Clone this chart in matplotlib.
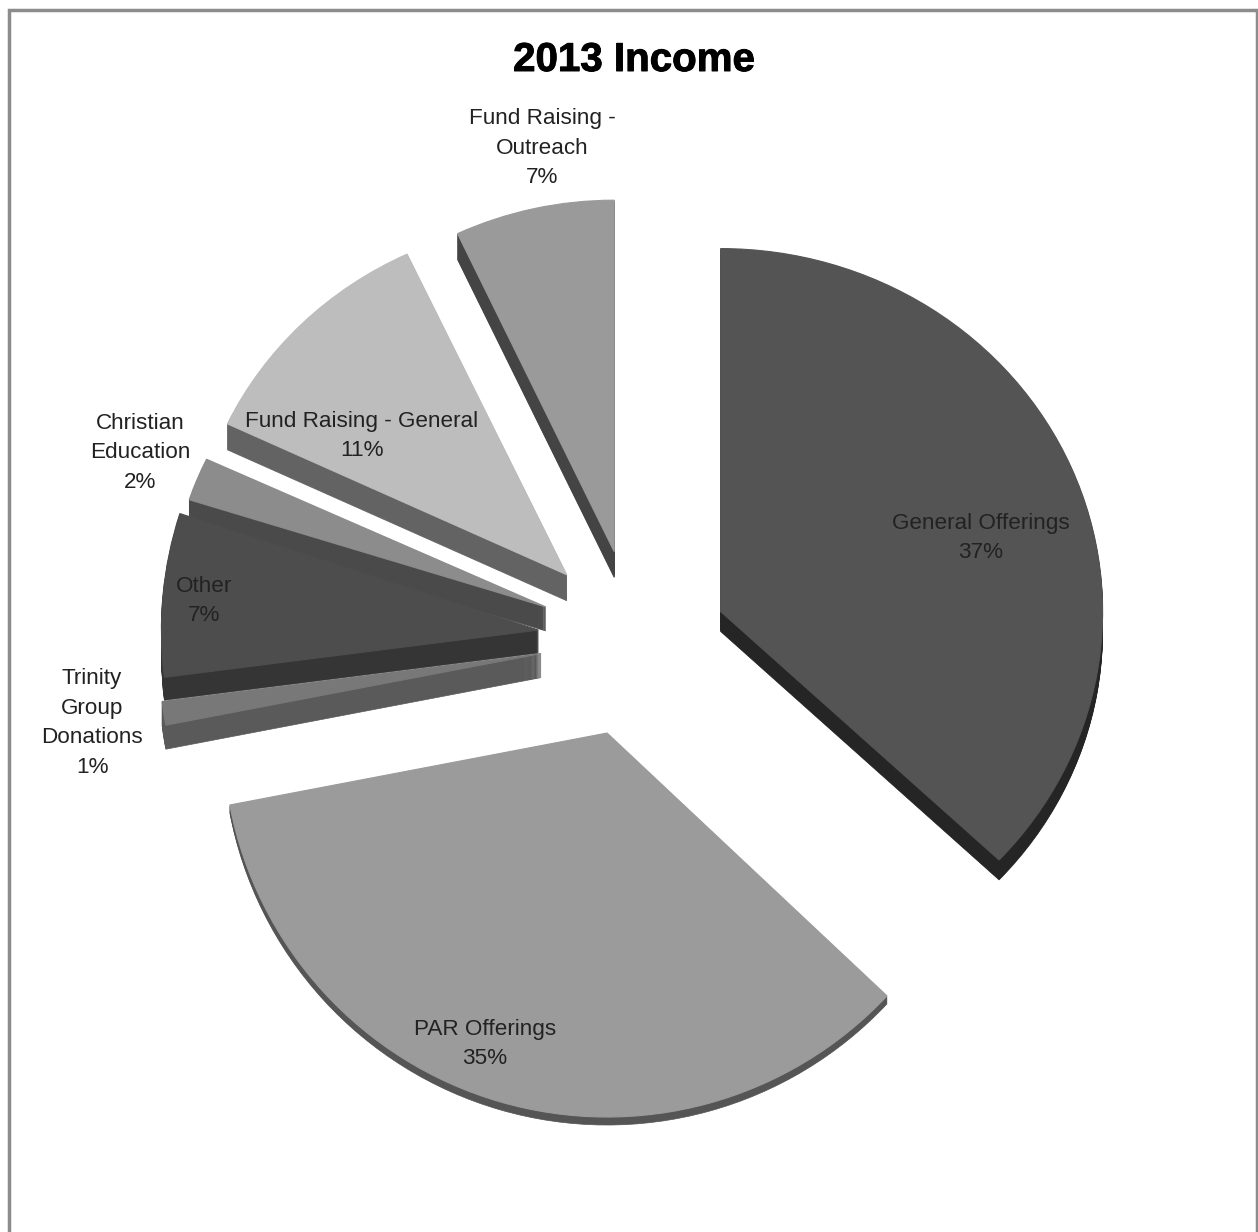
#!/usr/bin/python3

import matplotlib
matplotlib.use("Agg")
import matplotlib.pyplot as plt
import matplotlib.patheffects as pe
from matplotlib.patches import Rectangle, Wedge
from matplotlib.transforms import Affine2D

WIDTH, HEIGHT = 1258, 1232

# chart data, clockwise from 12 o'clock
categories = ["General Offerings", "PAR Offerings", "Trinity\nGroup\nDonations", "Other",
              "Christian\nEducation", "Fund Raising - General", "Fund Raising -\nOutreach"]
shares = [37, 35, 1, 7, 2, 11, 7]

top_colors = ["#545454", "#9b9b9b", "#787878", "#4d4d4d", "#8c8c8c", "#bdbdbd", "#9a9a9a"]
side_colors = ["#252525", "#555555", "#5a5a5a", "#353535", "#4a4a4a", "#636363", "#444444"]

# how far each slice is pulled out, plus the distortion of the 3d view
explode = [102, 75, 87, 95, 98, 105, 109]
nudge_x = [-3, -2, -3, 3, 7, 11, 8]
nudge_y = [-8, 1, -20, -21, -17, -11, -2]
radii = [382, 384, 382, 377, 375, 375, 368]
squash = [0.95, 1, 1, 1, 0.925, 0.945, 0.955]
depth = [20, 8, 24, 23, 24, 26, 26]
# screen order, back slices first
draw_order = [6, 5, 4, 3, 2, 0, 1]

# label centres in picture pixels
label_x = [981, 485, 92, 204, 140, 362, 542]
label_y = [538, 1044, 723, 601, 453, 436, 148]

plt.rcParams['font.family'] = ['Liberation Sans', 'DejaVu Sans']

fig = plt.figure(figsize=(WIDTH / 100, HEIGHT / 100), dpi=100)
ax = fig.add_axes([0, 0, 1, 1])

center = (630, HEIGHT - 660)
tops, _ = ax.pie(shares, explode=explode, startangle=90, counterclock=False, radius=380,
                 center=center, colors=top_colors, frame=False)

for rank, i in enumerate(draw_order):
    x, y = tops[i].center
    x, y = x + nudge_x[i], y - nudge_y[i]
    view = Affine2D().translate(0, -y).scale(1, squash[i]).translate(0, y) + ax.transData

    tops[i].set_center((x, y))
    tops[i].set_radius(radii[i])
    tops[i].set_transform(view)
    tops[i].set_edgecolor(top_colors[i])
    tops[i].set_linewidth(0.8)
    tops[i].set_zorder(3 + rank * 2)

    # side wall of the slice, stacked copies going down
    for k in range(1, depth[i] + 1):
        wall = Wedge((x, y - k / squash[i]), radii[i], tops[i].theta1, tops[i].theta2,
                     facecolor=side_colors[i], edgecolor=side_colors[i], linewidth=0.5,
                     transform=view, zorder=2 + rank * 2)
        ax.add_patch(wall)

ax.set_xlim(0, WIDTH)
ax.set_ylim(0, HEIGHT)
ax.set_aspect('auto')
ax.axis('off')

# chart frame, runs off the bottom of the picture
ax.add_patch(Rectangle((9, -20), WIDTH - 10, HEIGHT - 10 + 20, fill=False, edgecolor="#8c8c8c",
                       linewidth=2.5, zorder=1))

for name, share, lx, ly in zip(categories, shares, label_x, label_y):
    ax.text(lx, HEIGHT - ly, "%s\n%d%%" % (name, share), ha='center', va='center', fontsize=16.2,
            color="#222222", linespacing=1.53, zorder=30)

title = ax.text(634, HEIGHT - 60, "2013 Income", ha='center', va='center', fontsize=29,
                fontweight='bold', color="black", zorder=30)
title.set_path_effects([pe.withStroke(linewidth=0.7, foreground="black")])

fig.savefig("out.png", dpi=100)
